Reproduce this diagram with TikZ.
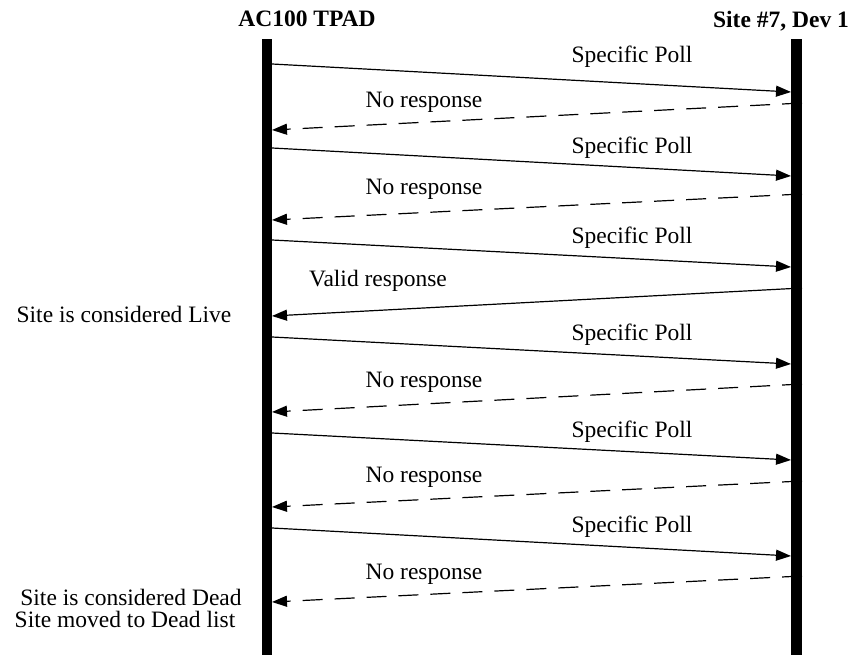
\documentclass[tikz,border=0pt]{standalone}
\usepackage{fontspec}
\setmainfont{Liberation Serif}
\usetikzlibrary{arrows.meta}

\tikzset{
  poll/.style={line width=1.2pt,-{Triangle[length=15pt,width=11pt]}},
  noresp/.style={poll,dash pattern=on 20pt off 12pt},
  lbl/.style={anchor=base,inner sep=0pt,font=\fontsize{23.5}{24}\selectfont},
  hdr/.style={lbl,font=\fontsize{23.5}{24}\selectfont\bfseries},
}

\begin{document}
\begin{tikzpicture}[x=1pt,y=-1pt]
  \useasboundingbox (0,0) rectangle (852,655);

  \node[hdr] (tpad) at (307,27) {AC100 TPAD};
  \node[hdr] (site) at (781,28) {Site \#7, Dev 1};

  \fill (262,39) rectangle (272,655);
  \fill (791,39) rectangle (802,655);

  % polls: left end / right end
  \foreach \n/\a/\b in {1/64/92,2/148/176,3/240/267,4/337/364,5/433/460,6/528/556}{
    \coordinate (v\n) at (272,\a);
    \coordinate (w\n) at (791,\b);
    \draw[poll] (v\n) -- (w\n);
  }
  % answers: right end / left end
  \foreach \n/\a/\b in {1/103/130,2/194/220,3/288/316,4/384/412,5/481/507,6/576/602}{
    \coordinate (ww\n) at (802,\a);
    \coordinate (vv\n) at (272,\b);
  }
  \draw[noresp] (ww1) -- (vv1);
  \draw[noresp] (ww2) -- (vv2);
  \draw[poll] (ww3) -- (vv3);
  \draw[noresp] (ww4) -- (vv4);
  \draw[noresp] (ww5) -- (vv5);
  \draw[noresp] (ww6) -- (vv6);

  \foreach \n/\y in {1/63,2/154,3/244,4/341,5/437,6/532}
    \node[lbl] (sp\n) at (632,\y) {Specific Poll};
  \foreach \n/\y in {1/108,2/195,4/387,5/482,6/579}
    \node[lbl] (nr\n) at (424,\y) {No response};
  \node[lbl] (vr) at (378,287) {Valid response};

  \node[lbl] (live) at (124,323) {Site is considered Live};
  \node[lbl] (dead) at (131,605) {Site is considered Dead};
  \node[lbl] (moved) at (125,627) {Site moved to Dead list};

\end{tikzpicture}
\end{document}
